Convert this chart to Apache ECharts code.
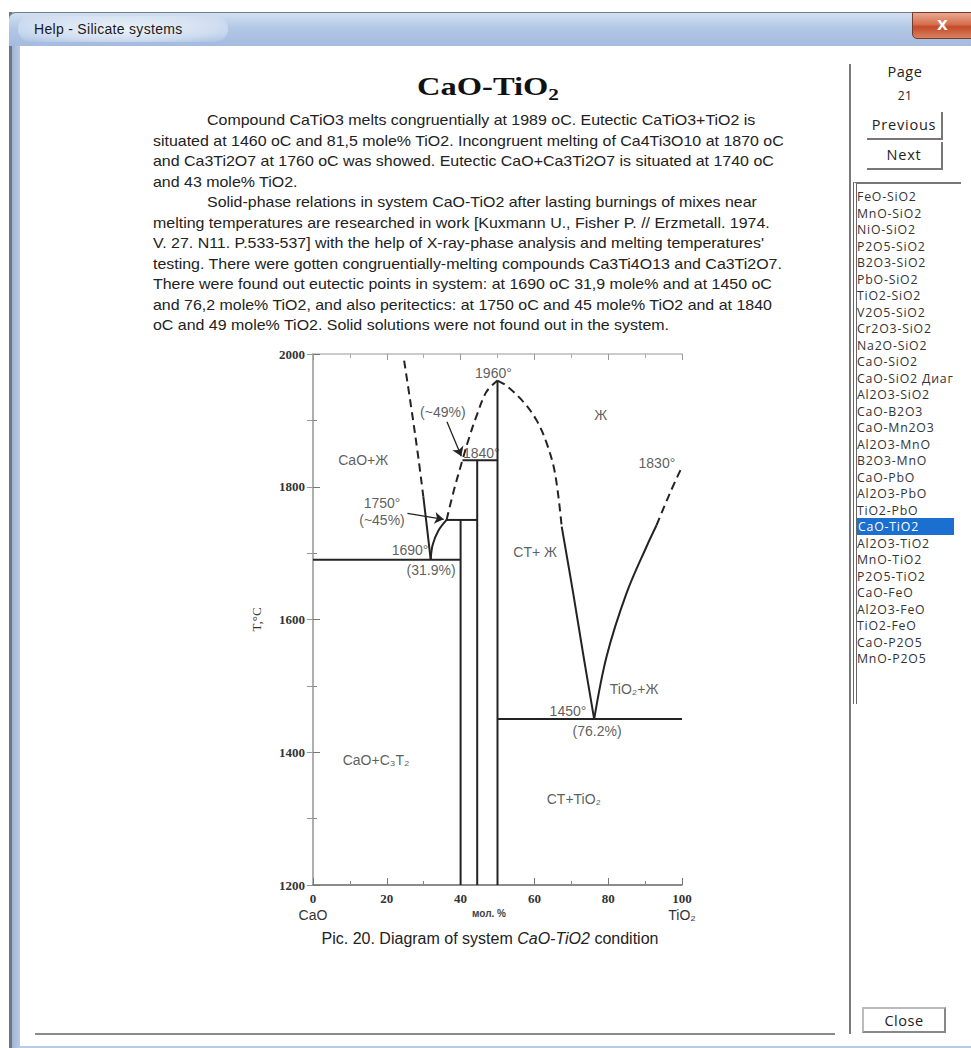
<!DOCTYPE html>
<html>
<head>
<meta charset="utf-8">
<script src="https://cdn.jsdelivr.net/npm/echarts@6/dist/echarts.min.js"></script>
<style>
html,body{margin:0;padding:0;background:#fff;}
body{width:971px;height:1048px;position:relative;overflow:hidden;font-family:"Liberation Sans",Arial,sans-serif;}
.abs{position:absolute;}
#frameL{left:9px;top:12px;width:3px;height:1036px;background:#6d7683;}
#frameBlue{left:12px;top:12px;width:8px;height:1036px;background:linear-gradient(to right,#9fb4d6,#b9cbe6);}
#titlebar{left:9px;top:12px;width:962px;height:33px;border-top-left-radius:7px;border-top:1px solid #6f7b8c;
  background:linear-gradient(to bottom,#d3e0f0 0%,#b3c8e6 45%,#a4bbdf 100%);}
#titleglow{left:18px;top:16px;width:210px;height:26px;border-radius:13px;background:radial-gradient(ellipse at center,rgba(240,245,252,0.95) 0%,rgba(230,238,248,0.6) 60%,rgba(200,215,235,0) 100%);}
#titletext{left:34px;top:21px;font-size:14px;letter-spacing:0.3px;color:#1a1a1a;font-family:"Liberation Sans",Arial,sans-serif;}
#closeX{left:912px;top:12px;width:59px;height:25px;border-bottom-left-radius:5px;border:1px solid #7a3a2a;
  background:linear-gradient(to bottom,#e8a890 0%,#d6704f 45%,#c24b2a 55%,#d9825e 100%);color:#fff;font-weight:bold;font-size:14px;text-align:center;line-height:24px;font-family:"DejaVu Sans",sans-serif;}
#content{left:20px;top:45px;width:951px;height:1002px;background:#fff;border-top:1px solid #c9d3df;}
#bottomLine{left:35px;top:1033px;width:800px;height:2px;background:#8a8a8a;}
#bottomEdge{left:20px;top:1046px;width:951px;height:2px;background:#b9cbe6;}
#divider{left:849px;top:64px;width:2px;height:970px;background:#7a7a7a;}
.side{font-family:"Open Sans","Noto Sans",sans-serif;color:#222;text-align:center;}
#pageLbl{left:860px;top:62px;width:90px;font-size:14.5px;letter-spacing:0.5px;}
#pageNum{left:860px;top:87px;width:90px;font-size:12px;letter-spacing:0.5px;}
.btn{border-right:2px solid #777;border-bottom:2px solid #777;font-size:14.5px;line-height:25px;letter-spacing:0.8px;}
#prev{left:867px;top:112px;width:74px;height:26px;}
#next{left:867px;top:142px;width:74px;height:26px;}
#list{left:853px;top:182px;width:104px;height:520px;border-top:2px solid #777;border-left:4px double #666;}
.item{position:absolute;left:0px;height:17px;line-height:17px;font-family:"Open Sans","Noto Sans",sans-serif;font-size:12.3px;color:#333;white-space:nowrap;letter-spacing:0.8px;}
.item.sel{background:#1a6fd0;color:#fff;width:96px;padding-left:1px;}
#closeBtn{left:862px;top:1007px;width:84px;height:26px;border:2px solid #888;border-top-color:#bbb;border-left-color:#bbb;font-size:14.5px;letter-spacing:0.5px;line-height:23px;box-sizing:border-box;}
#title{left:400px;width:176px;top:72px;text-align:center;font-family:"Liberation Serif","Times New Roman",serif;font-weight:bold;font-size:26px;color:#111;transform:scaleX(1.25);transform-origin:center;}
#title sub{font-size:17px;vertical-align:-5px;}
.ln{position:absolute;white-space:nowrap;font-size:14.5px;color:#222;font-family:"Liberation Sans",Arial,sans-serif;transform:scaleX(1.1);transform-origin:left center;}
#chart{position:absolute;left:0;top:0;width:971px;height:1048px;z-index:5;}
</style>
</head>
<body>
<div id="content" class="abs"></div>
<div id="frameL" class="abs"></div>
<div id="frameBlue" class="abs"></div>
<div id="titlebar" class="abs"></div>
<div id="titleglow" class="abs"></div>
<div id="titletext" class="abs">Help - Silicate systems</div>
<div id="closeX" class="abs">X</div>
<div id="bottomLine" class="abs"></div>
<div id="bottomEdge" class="abs"></div>
<div id="divider" class="abs"></div>
<div id="pageLbl" class="abs side">Page</div>
<div id="pageNum" class="abs side">21</div>
<div id="prev" class="abs side btn">Previous</div>
<div id="next" class="abs side btn">Next</div>
<div id="list" class="abs"></div>
<div id="closeBtn" class="abs side">Close</div>
<div id="title" class="abs">CaO-TiO<sub>2</sub></div>
<div id="text"></div>
<div id="chart"></div>
<script>
// ---------- page text ----------
const paragraphLines = [
  "Compound CaTiO3 melts congruentially at 1989 oC. Eutectic CaTiO3+TiO2 is",
  "situated at 1460 oC and 81,5 mole% TiO2. Incongruent melting of Ca4Ti3O10 at 1870 oC",
  "and Ca3Ti2O7 at 1760 oC was showed. Eutectic CaO+Ca3Ti2O7 is situated at 1740 oC",
  "and 43 mole% TiO2.",
  "Solid-phase relations in system CaO-TiO2 after lasting burnings of mixes near",
  "melting temperatures are researched in work [Kuxmann U., Fisher P. // Erzmetall. 1974.",
  "V. 27. N11. P.533-537] with the help of X-ray-phase analysis and melting temperatures'",
  "testing. There were gotten congruentially-melting compounds Ca3Ti4O13 and Ca3Ti2O7.",
  "There were found out eutectic points in system: at 1690 oC 31,9 mole% and at 1450 oC",
  "and 76,2 mole% TiO2, and also peritectics: at 1750 oC and 45 mole% TiO2 and at 1840",
  "oC and 49 mole% TiO2. Solid solutions were not found out in the system."
];
const indentedLines = [0, 4];
const listItems = ["FeO-SiO2","MnO-SiO2","NiO-SiO2","P2O5-SiO2","B2O3-SiO2","PbO-SiO2","TiO2-SiO2","V2O5-SiO2",
  "Cr2O3-SiO2","Na2O-SiO2","CaO-SiO2","CaO-SiO2 Диаг","Al2O3-SiO2","CaO-B2O3","CaO-Mn2O3","Al2O3-MnO",
  "B2O3-MnO","CaO-PbO","Al2O3-PbO","TiO2-PbO","CaO-TiO2","Al2O3-TiO2","MnO-TiO2","P2O5-TiO2",
  "CaO-FeO","Al2O3-FeO","TiO2-FeO","CaO-P2O5","MnO-P2O5"];
const selectedItem = "CaO-TiO2";

const textDiv = document.getElementById('text');
paragraphLines.forEach((t, i) => {
  const d = document.createElement('div');
  d.className = 'ln';
  d.textContent = t;
  d.style.left = (indentedLines.includes(i) ? 207 : 153) + 'px';
  d.style.top = (112 + i * 20.5) + 'px';
  textDiv.appendChild(d);
});
const listDiv = document.getElementById('list');
listItems.forEach((t, i) => {
  const d = document.createElement('div');
  d.className = 'item' + (t === selectedItem ? ' sel' : '');
  d.textContent = t;
  d.style.top = (4 + i * 16.5) + 'px';
  listDiv.appendChild(d);
});

// ---------- chart data ----------
const xTicks = [0, 20, 40, 60, 80, 100];
const yTicks = [1200, 1400, 1600, 1800, 2000];
// solid straight phase boundaries: [x1, T1, x2, T2]
const tieLines = [
  [0, 1690, 40, 1690],
  [36.2, 1750, 44.5, 1750],
  [40.5, 1840, 50, 1840],
  [50, 1450, 100, 1450],
  [40, 1200, 40, 1750],
  [44.5, 1200, 44.5, 1840],
  [50, 1200, 50, 1960]
];
// liquidus curves
const caoLiquidusDashed = [[24.7,1990],[26.6,1920],[28.4,1850],[29.9,1785]];
const caoLiquidusSolid  = [[29.9,1785],[30.9,1738],[31.9,1690]];
const c3t2LiquidusSolid = [[31.9,1690],[32.4,1712],[34.0,1734],[36.2,1750]];
const ctLiquidusLeftDashed = [[36.2,1750],[38.2,1795],[40.5,1840],[42.2,1872],[44.4,1908],[47.0,1943],[50,1960]];
const ctLiquidusRightDashed = [[50,1960],[52.5,1952],[57.0,1928],[60.6,1900],[63.3,1866],[65.6,1820],[67.4,1740]];
const ctLiquidusRightSolid = [[67.4,1740],[70.5,1640],[73.3,1545],[76.2,1450]];
const tio2LiquidusSolid = [[76.2,1450],[79.6,1545],[85.0,1640],[90.4,1710],[93.1,1742]];
const tio2LiquidusDashed = [[93.1,1742],[96.7,1790],[100,1830]];
// arrows [from, to]
const arrows = [
  [[36.3,1898],[40.2,1846]],
  [[25.6,1760],[35.4,1751]]
];
// text annotations [x, T, text]
const annotations = [
  [48.9, 1972, "1960°"],
  [35.2, 1913, "(~49%)"],
  [45.6, 1851, "1840°"],
  [13.6, 1840, "CaO+Ж"],
  [18.7, 1776, "1750°"],
  [18.7, 1750, "(~45%)"],
  [26.3, 1705, "1690°"],
  [32.0, 1675, "(31.9%)"],
  [78.0, 1908, "Ж"],
  [93.2, 1836, "1830°"],
  [60.2, 1702, "CT+ Ж"],
  [87.0, 1495, "TiO₂+Ж"],
  [69.1, 1462, "1450°"],
  [77.0, 1432, "(76.2%)"],
  [17.1, 1389, "CaO+C₃T₂"],
  [70.7, 1330, "CT+TiO₂"]
];
const xAxisName = "мол. %";
const yAxisName = "T,°C";
const leftComponent = "CaO";
const rightComponent = "TiO₂";
const caption = ["Pic. 20. Diagram of system ", "CaO-TiO2", " condition"];

// ---------- chart ----------
const chart = echarts.init(document.getElementById('chart'), null, {renderer: 'svg'});
const INK = '#232323';
const solid = {color: INK, width: 2, type: 'solid'};
const dashed = {color: INK, width: 2, type: [8, 5]};
function curve(data, style) {
  return {type: 'line', data: data, smooth: 0.35, showSymbol: false, symbol: 'none',
    lineStyle: style, silent: true, animation: false, z: 3};
}
const series = [];
tieLines.forEach(s => series.push({type: 'line', data: [[s[0], s[1]], [s[2], s[3]]], showSymbol: false, symbol: 'none',
  lineStyle: solid, silent: true, animation: false, z: 3}));
series.push(curve(caoLiquidusDashed, dashed));
series.push(curve(caoLiquidusSolid, solid));
series.push(curve(c3t2LiquidusSolid, solid));
series.push(curve(ctLiquidusLeftDashed, dashed));
series.push(curve(ctLiquidusRightDashed, dashed));
series.push(curve(ctLiquidusRightSolid, solid));
series.push(curve(tio2LiquidusSolid, solid));
series.push(curve(tio2LiquidusDashed, dashed));
series.push({type: 'lines', coordinateSystem: 'cartesian2d', polyline: false,
  data: arrows.map(a => ({coords: a})), symbol: ['none', 'arrow'], symbolSize: [0, 9],
  lineStyle: {color: INK, width: 1.3, opacity: 1, curveness: 0}, silent: true, animation: false, z: 4});
series.push({type: 'scatter', data: annotations.map(a => ({value: [a[0], a[1]], name: a[2]})),
  symbolSize: 0, silent: true, animation: false, z: 5,
  label: {show: true, position: 'inside', formatter: '{b}', color: '#333', fontSize: 14,
    fontFamily: 'Liberation Sans, Arial, sans-serif'}});

const serifLbl = {fontFamily: 'Liberation Serif, Times New Roman, serif', fontSize: 13, color: '#333', fontWeight: 'bold'};
chart.setOption({
  animation: false,
  backgroundColor: 'transparent',
  grid: {left: 313, top: 354, width: 369, height: 531, containLabel: false},
  xAxis: [
    {type: 'value', position: 'bottom', min: xTicks[0], max: xTicks[xTicks.length - 1], interval: 20,
      axisLine: {show: true, lineStyle: {color: '#666', width: 1.5}},
      axisTick: {show: true, inside: true, length: 7, lineStyle: {color: '#777'}},
      minorTick: {show: true, splitNumber: 2, length: 4, lineStyle: {color: '#888'}},
      splitLine: {show: false},
      axisLabel: {margin: 5, formatter: v => v === 0 ? '{n|0}\n{s|' + leftComponent + '}' :
          v === 100 ? '{n|100}\n{s|' + rightComponent + '}' : '{n|' + v + '}',
        rich: {n: Object.assign({lineHeight: 16}, serifLbl),
               s: {fontFamily: 'Liberation Sans, Arial, sans-serif', fontSize: 14, color: '#333', lineHeight: 18}}}},
    {type: 'value', position: 'top', min: 0, max: 100, interval: 20,
      axisLine: {show: true, lineStyle: {color: '#bbb', width: 1.5}},
      axisTick: {show: true, inside: true, length: 6, lineStyle: {color: '#999'}},
      minorTick: {show: true, splitNumber: 2, length: 4, lineStyle: {color: '#aaa'}},
      splitLine: {show: false}, axisLabel: {show: false}}
  ],
  yAxis: [
    {type: 'value', position: 'left', min: yTicks[0], max: yTicks[yTicks.length - 1], interval: 200,
      axisLine: {show: true, lineStyle: {color: '#666', width: 1.5}},
      axisTick: {show: true, inside: true, length: 7, lineStyle: {color: '#777'}},
      minorTick: {show: true, splitNumber: 2, length: 4, lineStyle: {color: '#888'}},
      splitLine: {show: false},
      axisLabel: Object.assign({margin: 8, formatter: v => String(v)}, serifLbl),
      name: yAxisName, nameLocation: 'middle', nameGap: 50, nameRotate: 90,
      nameTextStyle: {fontFamily: 'Liberation Serif, Times New Roman, serif', fontSize: 13, color: '#333'}},
    {type: 'value', position: 'right', min: 1200, max: 2000, interval: 100,
      axisLine: {show: true, lineStyle: {color: '#bbb', width: 1.5}},
      axisTick: {show: true, inside: true, length: 6, lineStyle: {color: '#999'}},
      splitLine: {show: false}, axisLabel: {show: false}}
  ],
  graphic: [
    {type: 'text', x: 489, y: 913,
      style: {text: xAxisName, align: 'center', verticalAlign: 'middle',
        font: 'bold 10px Liberation Sans, Arial, sans-serif', fill: '#444'}},
    {type: 'text', x: 490, y: 938,
      style: {text: caption[0] + '{i|' + caption[1] + '}' + caption[2], align: 'center', verticalAlign: 'middle',
        rich: {i: {fontStyle: 'italic', fontSize: 16, fontFamily: 'Liberation Sans, Arial, sans-serif', fill: '#222'}},
        font: '16px Liberation Sans, Arial, sans-serif', fill: '#222'}}
  ],
  series: series
});
</script>
</body>
</html>
